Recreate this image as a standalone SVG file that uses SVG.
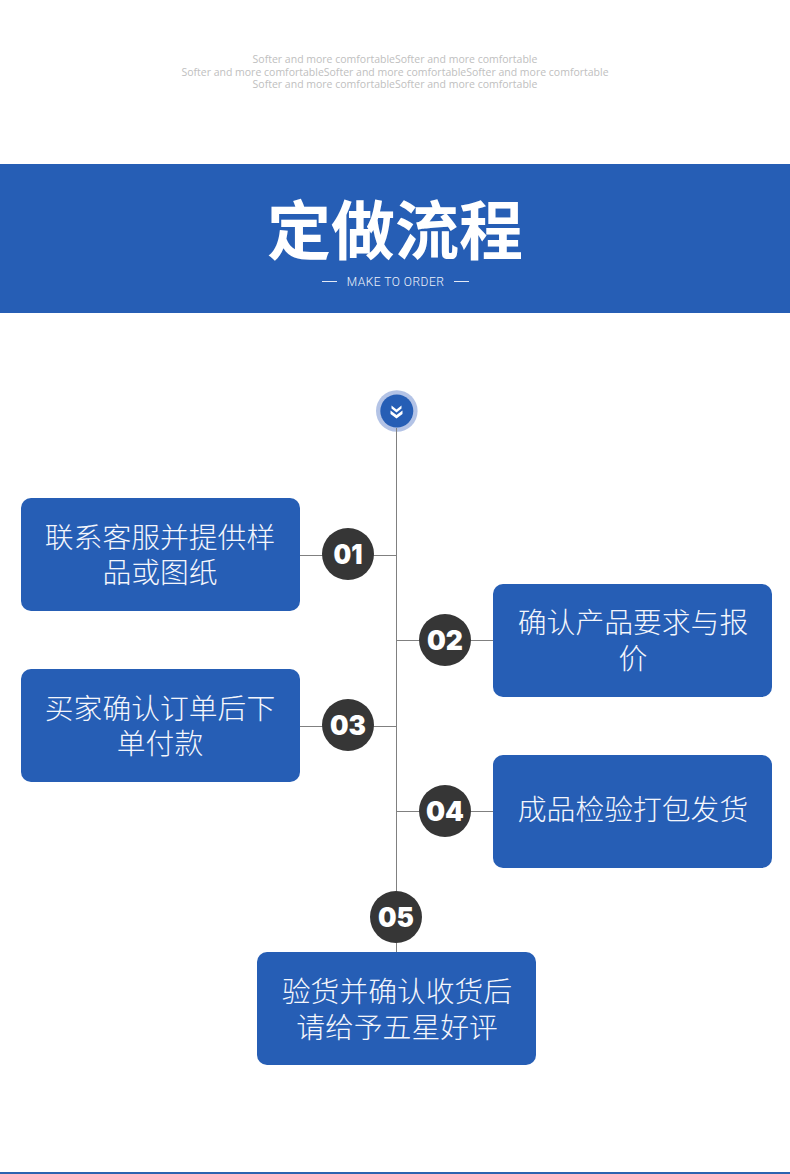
<svg xmlns="http://www.w3.org/2000/svg" width="790" height="1174" viewBox="0 0 790 1174">
<style>
.box{fill:#265eb5}
.bt{font-family:"Noto Sans CJK SC",sans-serif;font-weight:200;font-size:28.8px;fill:#f4f6fc;text-anchor:middle}
.disc{fill:#363636}
.num{font-family:Inter,"DejaVu Sans",sans-serif;font-weight:900;font-size:27px;fill:#fff;text-anchor:middle}
.sm{font-family:"Open Sans","Noto Sans",sans-serif;font-size:10.5px;fill:#c0c0c0;text-anchor:middle}
.ln{stroke:#808080;stroke-width:1;fill:none}
</style>
<rect width="790" height="1174" fill="#fff"/>
<g id="intro">
<text class="sm" x="395" y="63">Softer and more comfortableSofter and more comfortable</text>
<text class="sm" x="395" y="76">Softer and more comfortableSofter and more comfortableSofter and more comfortable</text>
<text class="sm" x="395" y="88">Softer and more comfortableSofter and more comfortable</text>
</g>
<g id="banner">
<rect y="164" width="790" height="149" fill="#265eb5"/>
<text x="395" y="254" font-family="'Noto Sans CJK SC',sans-serif" font-weight="700" font-size="64" fill="#fff" text-anchor="middle">定做流程</text>
<text x="395.500" y="286" font-family="Roboto,sans-serif" font-weight="300" font-size="12" letter-spacing="0.5" fill="#eef2fa" text-anchor="middle">MAKE TO ORDER</text>
<path d="M322 281.500H337M454 281.500H469" stroke="#e4eaf6" stroke-width="1" fill="none"/>
</g>
<g id="start">
<circle cx="396.800" cy="411" r="20.800" fill="#b3c3e6"/>
<circle cx="396.800" cy="411" r="16.500" fill="#265eb5"/>
<path d="M391.500 405.500L396.500 409.500L401.500 405.500V408.500L396.500 412.500L391.500 408.500ZM390.500 410.500L396.500 415L402.500 410.500V414L396.500 418.500L390.500 414Z" fill="#fff"/>
</g>
<g id="connectors">
<path class="ln" d="M396.500 428V952M300 555.500H396M397 640.500H493M300 726.500H396M397 811.500H493"/>
</g>
<g id="step1">
<rect class="box" x="21" y="498" width="279" height="113" rx="10"/>
<text class="bt" x="160" y="548">联系客服并提供样</text>
<text class="bt" x="160" y="583">品或图纸</text>
<circle class="disc" cx="348" cy="554" r="26"/>
<text class="num" x="348" y="564" textLength="29" lengthAdjust="spacingAndGlyphs">01</text>
</g>
<g id="step2">
<rect class="box" x="493" y="584" width="279" height="113" rx="10"/>
<text class="bt" x="633" y="633">确认产品要求与报</text>
<text class="bt" x="633" y="669">价</text>
<circle class="disc" cx="445" cy="640" r="26"/>
<text class="num" x="445" y="650" textLength="36" lengthAdjust="spacingAndGlyphs">02</text>
</g>
<g id="step3">
<rect class="box" x="21" y="669" width="279" height="113" rx="10"/>
<text class="bt" x="160" y="719">买家确认订单后下</text>
<text class="bt" x="160" y="754">单付款</text>
<circle class="disc" cx="348" cy="725" r="26"/>
<text class="num" x="348" y="735" textLength="36" lengthAdjust="spacingAndGlyphs">03</text>
</g>
<g id="step4">
<rect class="box" x="493" y="755" width="279" height="113" rx="10"/>
<text class="bt" x="633" y="820">成品检验打包发货</text>
<circle class="disc" cx="445" cy="811" r="26"/>
<text class="num" x="445" y="821" textLength="38" lengthAdjust="spacingAndGlyphs">04</text>
</g>
<g id="step5">
<circle class="disc" cx="396" cy="917" r="26"/>
<text class="num" x="396" y="927" textLength="36" lengthAdjust="spacingAndGlyphs">05</text>
<rect class="box" x="257" y="952" width="279" height="113" rx="10"/>
<text class="bt" x="397" y="1002">验货并确认收货后</text>
<text class="bt" x="397" y="1038">请给予五星好评</text>
</g>
<rect id="footer-rule" y="1172" width="790" height="2" fill="#2b63b0"/>
</svg>
